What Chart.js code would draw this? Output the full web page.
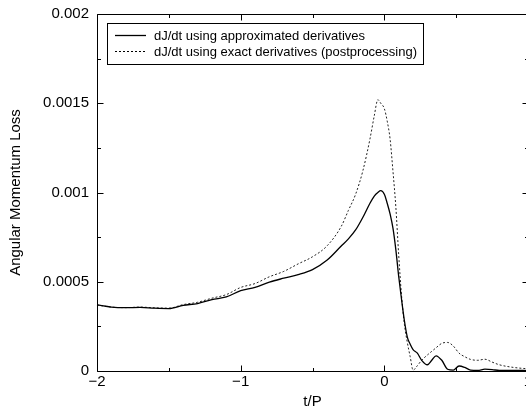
<!DOCTYPE html>
<html><head><meta charset="utf-8">
<script src="https://cdn.jsdelivr.net/npm/chart.js@4/dist/chart.umd.min.js"></script>
<style>
html,body{margin:0;padding:0;overflow:hidden;background:#fff;}
#wrap{position:relative;width:528px;height:411px;}
</style></head><body>
<div id="wrap"><canvas id="c"></canvas></div>
<script>
const tValues = [-2.0,-1.9,-1.8,-1.7,-1.6,-1.5,-1.4,-1.3,-1.2,-1.1,-1.0,-0.9,-0.8,-0.7,-0.6,-0.5,-0.4,-0.3,-0.25,-0.2,-0.15,-0.1,-0.07,-0.045,-0.025,0.0,0.02,0.04,0.06,0.08,0.1,0.12,0.14,0.16,0.18,0.2,0.23,0.26,0.3,0.33,0.36,0.4,0.44,0.48,0.52,0.56,0.6,0.65,0.7,0.75,0.8,0.9,1.0];
const approxValues = [0.00037,0.000358,0.000355,0.000356,0.000352,0.00035,0.000368,0.000378,0.0004,0.000415,0.00045,0.000468,0.000498,0.00052,0.00054,0.000568,0.00062,0.0007,0.00074,0.00079,0.00086,0.00094,0.00098,0.001,0.00101,0.00099,0.00094,0.00088,0.0008,0.00068,0.00053,0.0004,0.00028,0.00019,0.00015,0.00012,0.0001,0.00006,0.000035,0.00006,0.000085,0.00006,0.00001,0.000005,0.000028,0.00002,0.000005,0.000003,0.00001,0.000008,0.000003,0.000004,0.000002];
const exactValues = [0.00037,0.000358,0.000355,0.000358,0.000354,0.000352,0.000372,0.000385,0.000408,0.000428,0.000468,0.00049,0.000528,0.000558,0.0006,0.00064,0.0007,0.00081,0.0009,0.00099,0.00112,0.0013,0.00143,0.00152,0.0015,0.00147,0.0014,0.0013,0.00112,0.00092,0.00065,0.00042,0.00026,0.00016,0.00008,0.000005,0.00003,0.00006,0.00009,0.00011,0.00013,0.000155,0.00016,0.00014,0.0001,0.00008,0.000065,0.00006,0.000066,0.00005,0.000035,0.00002,0.000012];
const seriesLabels = ['dJ/dt using approximated derivatives','dJ/dt using exact derivatives (postprocessing)'];
const xMajorTicks = [-2,-1,0,1];
const xTickLabels = ['\u22122','\u22121','0','1'];
const xMinorTicks = [-1.5,-0.5,0.5];
const yMajorTicks = [0,0.0005,0.001,0.0015,0.002];
const yTickLabels = ['0','0.0005','0.001','0.0015','0.002'];
const yMinorTicks = [0.00025,0.00075,0.00125,0.00175];
const xTitle = 't/P';
const yTitle = 'Angular Momentum Loss';

const FONT = "'Liberation Sans', Arial, Helvetica, sans-serif";

const framePlugin = {
  id: 'frameTicks',
  afterDatasetsDraw(chart) {
    const {ctx, chartArea: a, scales: {x, y}} = chart;
    const L = Math.round(a.left) + 0.5, R = Math.round(a.right) + 0.5;
    const T = Math.round(a.top) + 0.5, B = Math.round(a.bottom) + 0.5;
    ctx.save();
    ctx.strokeStyle = '#000';
    ctx.lineWidth = 1;
    ctx.beginPath();
    ctx.moveTo(L, T); ctx.lineTo(R, T); ctx.lineTo(R, B); ctx.lineTo(L, B); ctx.closePath();
    ctx.stroke();
    const maj = 6, mnr = 3.5;
    ctx.beginPath();
    const xt = (v, len) => { const p = Math.round(x.getPixelForValue(v)) + 0.5; ctx.moveTo(p, B); ctx.lineTo(p, B - len); ctx.moveTo(p, T); ctx.lineTo(p, T + len); };
    const yt = (v, len) => { const p = Math.round(y.getPixelForValue(v)) + 0.5; ctx.moveTo(L, p); ctx.lineTo(L + len, p); ctx.moveTo(R, p); ctx.lineTo(R - len, p); };
    xMajorTicks.forEach(v => xt(v, maj)); xMinorTicks.forEach(v => xt(v, mnr));
    yMajorTicks.forEach(v => yt(v, maj)); yMinorTicks.forEach(v => yt(v, mnr));
    ctx.stroke();
    // legend
    const bx = 107.5, by = 23.5, bw = 316, bh = 41;
    ctx.fillStyle = '#fff';
    ctx.fillRect(bx, by, bw, bh);
    ctx.strokeRect(bx, by, bw, bh);
    ctx.font = '13px ' + FONT;
    ctx.textBaseline = 'middle';
    ctx.textAlign = 'left';
    const rows = [35.5, 51.5];
    chart.data.datasets.forEach((ds, i) => {
      ctx.strokeStyle = '#000';
      ctx.lineWidth = ds.borderWidth;
      ctx.setLineDash(ds.borderDash || []);
      ctx.beginPath(); ctx.moveTo(115, rows[i]); ctx.lineTo(146, rows[i]); ctx.stroke();
      ctx.setLineDash([]);
      ctx.fillStyle = '#000';
      ctx.fillText(ds.label, 154, rows[i] + 0.5);
    });
    // y title
    ctx.save();
    ctx.translate(16, (a.top + a.bottom) / 2);
    ctx.rotate(-Math.PI / 2);
    ctx.textAlign = 'center';
    ctx.font = '15px ' + FONT;
    ctx.fillText(yTitle, 0, 0);
    ctx.restore();
    ctx.restore();
  }
};

new Chart(document.getElementById('c'), {
  type: 'line',
  data: {
    datasets: [
      { label: seriesLabels[0], data: tValues.map((t, i) => ({x: t, y: approxValues[i]})), borderColor: '#000', borderWidth: 1.3, pointRadius: 0, cubicInterpolationMode: 'monotone', fill: false, clip: false },
      { label: seriesLabels[1], data: tValues.map((t, i) => ({x: t, y: exactValues[i]})), borderColor: '#222', borderWidth: 1, borderDash: [2, 2], pointRadius: 0, cubicInterpolationMode: 'monotone', fill: false, clip: false }
    ]
  },
  options: {
    responsive: true, maintainAspectRatio: false, animation: false,
    layout: { padding: { top: 14, left: 0, right: 0, bottom: 0 } },
    plugins: { legend: { display: false }, tooltip: { enabled: false } },
    scales: {
      x: {
        type: 'linear', min: -2, max: 1,
        grid: { display: false, drawTicks: false }, border: { display: false },
        afterBuildTicks: s => { s.ticks = xMajorTicks.map(v => ({value: v})); },
        afterFit: s => { s.height = 40; s.paddingLeft = 0; s.paddingRight = 0; },
        ticks: { color: '#000', font: { family: FONT, size: 15 }, padding: 2, maxRotation: 0, autoSkip: false,
          callback: (v) => { const i = xMajorTicks.indexOf(v); return i >= 0 ? xTickLabels[i] : ''; } },
        title: { display: true, text: xTitle, color: '#000', font: { family: FONT, size: 15 }, padding: 0 }
      },
      y: {
        type: 'linear', min: 0, max: 0.002,
        grid: { display: false, drawTicks: false }, border: { display: false },
        afterBuildTicks: s => { s.ticks = yMajorTicks.map(v => ({value: v})); },
        afterFit: s => { s.width = 97; s.paddingTop = 0; s.paddingBottom = 0; },
        ticks: { color: '#000', font: { family: FONT, size: 15 }, padding: 8, autoSkip: false,
          callback: (v) => { const i = yMajorTicks.indexOf(v); return i >= 0 ? yTickLabels[i] : ''; } }
      }
    }
  },
  plugins: [framePlugin]
});
</script>
</body></html>
